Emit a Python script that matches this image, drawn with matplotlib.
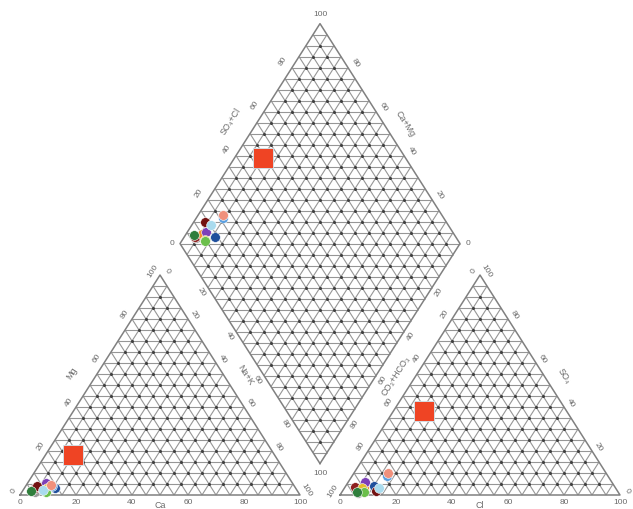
import numpy as np
import matplotlib
matplotlib.use("Agg")
import matplotlib.pyplot as plt
from matplotlib.collections import LineCollection

plt.rcParams['font.family'] = ['Liberation Sans', 'DejaVu Sans']

# Water samples, meq % of cations and anions
sample_colors = ['#9b9b9b', '#8e1f1f', '#f39130', '#7d40b8', '#e6c02c', '#6bbf4b',
                 '#1f4f9c', '#731212', '#a9dbee', '#5a9fe0', '#f0907c', '#2f7e3c']
sample_mg = [1.5, 3.0, 3.5, 5.5, 3.0, 1.5, 3.0, 4.0, 2.5, 4.0, 4.5, 2.0]
sample_nak = [4.5, 4.0, 5.5, 6.5, 8.0, 8.5, 11.0, 4.0, 7.0, 9.5, 9.0, 3.0]
sample_so4 = [1.0, 3.5, 3.0, 6.0, 3.0, 1.5, 4.0, 2.0, 3.0, 8.5, 10.0, 1.5]
sample_cl = [6.0, 3.5, 7.0, 6.0, 6.5, 8.0, 10.0, 12.0, 12.5, 12.5, 12.0, 5.5]

# Reference water
ref_mg, ref_nak = 18.0, 10.0
ref_so4, ref_cl = 38.0, 11.0
ref_color = '#ef4424'

tick_values = [0, 20, 40, 60, 80, 100]

# ---- Piper geometry (side length 1) ----
H = np.sqrt(3) / 2
GAP = 1 / 7
PX_X, PX_Y = 280.0, 254.0          # pixels per unit horizontally / vertically
X_LEFT_PX, Y_BASE_PX = 20.0, 495.0
W_PX, H_PX = 633, 509

LT = [np.array([0.0, 0.0]), np.array([1.0, 0.0]), np.array([0.5, H])]          # Ca, Na+K, Mg
RT = [np.array([1 + GAP, 0.0]), np.array([2 + GAP, 0.0]), np.array([1.5 + GAP, H])]  # CO3, Cl, SO4
DB = np.array([1 + GAP / 2, GAP * H])
DU = np.array([0.5, H])
DV = np.array([-0.5, H])
DR, DL, DT = DB + DU, DB + DV, DB + DU + DV


def left_xy(mg, nak):
    mg = np.asarray(mg) / 100
    nak = np.asarray(nak) / 100
    return nak + mg / 2, mg * H


def right_xy(so4, cl):
    so4 = np.asarray(so4) / 100
    cl = np.asarray(cl) / 100
    return 1 + GAP + cl + so4 / 2, so4 * H


def diamond_xy(anion_sum, cation_sum):
    a = np.asarray(anion_sum) / 100
    b = np.asarray(cation_sum) / 100
    return DB[0] + a * DU[0] + b * DV[0], DB[1] + a * DU[1] + b * DV[1]


def tri_segments(verts, n=20):
    segs = []
    for k in range(3):
        p, q, r = verts[k], verts[(k + 1) % 3], verts[(k + 2) % 3]
        for i in range(1, n):
            t = i / n
            segs.append([p + t * (q - p), p + t * (r - p)])
    return segs


def tri_nodes(verts, n=20):
    pts = []
    A, B, C = verts
    for i in range(1, n):
        for j in range(1, n - i):
            pts.append(A + (B - A) * j / n + (C - A) * i / n)
    return np.array(pts)


def diamond_segments(n=20):
    segs = []
    for i in range(1, n):
        t = i / n
        segs.append([DB + t * DU, DB + t * DU + DV])
        segs.append([DB + t * DV, DB + t * DV + DU])
    for k in range(1, 2 * n):
        s = k / n
        a0, a1 = max(0.0, s - 1), min(1.0, s)
        segs.append([DB + a0 * DU + (s - a0) * DV, DB + a1 * DU + (s - a1) * DV])
    return segs


def diamond_nodes(n=20):
    return np.array([DB + DU * i / n + DV * j / n
                     for i in range(1, n) for j in range(1, n)])


fig = plt.figure(figsize=(W_PX / 100, H_PX / 100), dpi=100)
ax = fig.add_axes([0, 0, 1, 1])
ax.set_xlim(-X_LEFT_PX / PX_X, (W_PX - X_LEFT_PX) / PX_X)
ax.set_ylim((Y_BASE_PX - H_PX) / PX_Y, Y_BASE_PX / PX_Y)
ax.axis('off')

grid_color = '#969696'
segs = tri_segments(LT) + tri_segments(RT) + diamond_segments()
ax.add_collection(LineCollection(segs, colors=grid_color, linewidths=0.8, zorder=1))
outlines = [LT + [LT[0]], RT + [RT[0]], [DB, DR, DT, DL, DB]]
for ol in outlines:
    ol = np.array(ol)
    ax.plot(ol[:, 0], ol[:, 1], color='#808080', lw=1.1, zorder=2)

nodes = np.vstack([tri_nodes(LT), tri_nodes(RT), diamond_nodes()])
ax.plot(nodes[:, 0], nodes[:, 1], 'o', ms=2.2, color='#404040', mew=0, zorder=2)

# ---- labels ----
txt_color = '#6a6a6a'
tick_fs = 6.0
title_fs = 6.4


def px_vec(d):
    return np.array([d[0] * PX_X, d[1] * PX_Y])


def edge_frame(P, Q, inside):
    d = px_vec(Q - P)
    d = d / np.hypot(*d)
    nrm = np.array([d[1], -d[0]])
    mid = (P + Q) / 2
    if np.dot(nrm, px_vec(inside - mid)) > 0:
        nrm = -nrm
    ang = np.degrees(np.arctan2(d[1], d[0]))
    if ang > 90:
        ang -= 180
    elif ang <= -90:
        ang += 180
    return nrm, ang


def label_edge(P, Q, inside, values, offset, ts=None, rot=None):
    nrm, ang = edge_frame(P, Q, inside)
    if rot is not None:
        ang = rot
    if ts is None:
        ts = [v / 100 for v in values]
    for t, v in zip(ts, values):
        p = P + t * (Q - P)
        ax.annotate(str(v), xy=p, xytext=(nrm * offset * 0.72), textcoords='offset points',
                    ha='center', va='center', rotation=ang, fontsize=tick_fs,
                    color=txt_color, zorder=5)


def title_edge(P, Q, inside, text, offset, rot=None):
    nrm, ang = edge_frame(P, Q, inside)
    if rot is not None:
        ang = rot
    p = (P + Q) / 2
    ax.annotate(text, xy=p, xytext=(nrm * offset * 0.72), textcoords='offset points',
                ha='center', va='center', rotation=ang, fontsize=title_fs,
                color=txt_color, zorder=5)


lt_c = sum(LT) / 3
rt_c = sum(RT) / 3
d_c = (DB + DT) / 2
inner_ts = [0.2, 0.4, 0.6, 0.8]

# cation triangle
label_edge(LT[0], LT[2], lt_c, tick_values, 8)                 # Mg
label_edge(LT[2], LT[1], lt_c, tick_values, 8)                 # Na+K
label_edge(LT[0], LT[1], lt_c, tick_values[::-1], 8, rot=0)    # Ca
title_edge(LT[0], LT[2], lt_c, 'Mg', 21)
title_edge(LT[2], LT[1], lt_c, 'Na+K', 18)
title_edge(LT[0], LT[1], lt_c, 'Ca', 11, rot=0)

# anion triangle
label_edge(RT[2], RT[0], rt_c, tick_values, 8)                 # CO3+HCO3
label_edge(RT[1], RT[2], rt_c, tick_values, 8)                 # SO4
label_edge(RT[0], RT[1], rt_c, tick_values, 8, rot=0)          # Cl
title_edge(RT[2], RT[0], rt_c, 'CO₃+HCO₃', 17)
title_edge(RT[1], RT[2], rt_c, 'SO₄', 17)
title_edge(RT[0], RT[1], rt_c, 'Cl', 11, rot=0)

# diamond
label_edge(DL, DT, d_c, tick_values[1:5], 11, ts=inner_ts)         # SO4+Cl
label_edge(DT, DR, d_c, tick_values[4:0:-1], 9, ts=inner_ts)       # Ca+Mg
label_edge(DL, DB, d_c, tick_values[1:5], 8, ts=inner_ts)          # Na+K
label_edge(DR, DB, d_c, tick_values[1:5], 8, ts=inner_ts)          # CO3+HCO3
title_edge(DL, DT, d_c, 'SO₄+Cl', 23)
title_edge(DT, DR, d_c, 'Ca+Mg', 18)
for pt, txt, off in [(DT, '100', (0, 9)), (DB, '100', (0, -10)),
                     (DL, '0', (-8, 0)), (DR, '0', (8, 0))]:
    ax.annotate(txt, xy=pt, xytext=(off[0] * 0.72, off[1] * 0.72), textcoords='offset points',
                ha='center', va='center', fontsize=tick_fs, color=txt_color, zorder=5)

# ---- data ----
s_mg = np.array(sample_mg)
s_nak = np.array(sample_nak)
s_so4 = np.array(sample_so4)
s_cl = np.array(sample_cl)
cat_sum = 100 - s_nak
an_sum = s_so4 + s_cl

xl, yl = left_xy(s_mg, s_nak)
xr, yr = right_xy(s_so4, s_cl)
xd, yd = diamond_xy(an_sum, cat_sum)
for i, c in enumerate(sample_colors):
    for x, y in [(xl[i], yl[i]), (xr[i], yr[i]), (xd[i], yd[i])]:
        ax.plot(x, y, 'o', ms=7, color=c, mec='white', mew=0.4, zorder=6)

rx, ry = left_xy(ref_mg, ref_nak)
ax.plot(rx, ry, 's', ms=14, color=ref_color, mec='#cfe8f2', mew=0.6, zorder=7)
rx, ry = right_xy(ref_so4, ref_cl)
ax.plot(rx, ry, 's', ms=14, color=ref_color, mec='#cfe8f2', mew=0.6, zorder=7)
rx, ry = diamond_xy(ref_so4 + ref_cl, 100 - ref_nak)
ax.plot(rx, ry, 's', ms=14, color=ref_color, mec='#cfe8f2', mew=0.6, zorder=7)

fig.savefig('out.png', dpi=100)
